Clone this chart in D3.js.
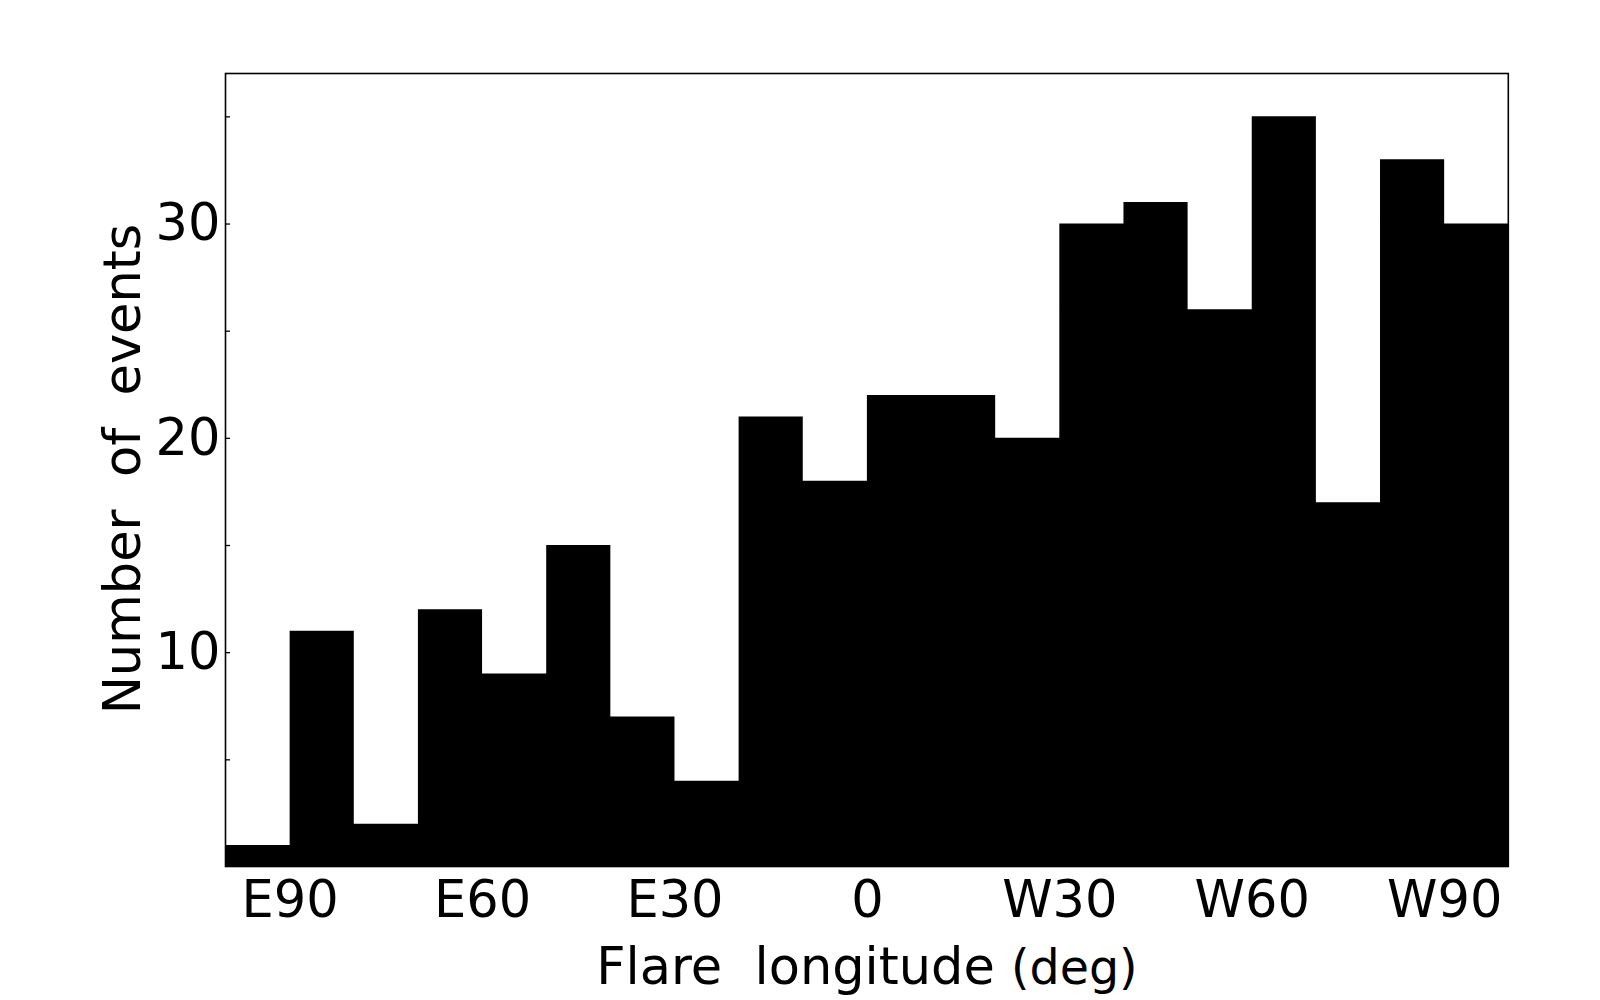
<!DOCTYPE html>
<html>
<head>
<meta charset="utf-8">
<script src="https://cdn.jsdelivr.net/npm/d3@7"></script>
<style>
  html, body { margin: 0; padding: 0; background: #fff; }
  svg { display: block; font-family: "DejaVu Sans", sans-serif; }
</style>
</head>
<body>
<svg id="chart" width="1600" height="1000"></svg>
<script>
// ---- data ----
const binStarts = [-100, -90, -80, -70, -60, -50, -40, -30, -20, -10, 0, 10, 20, 30, 40, 50, 60, 70, 80, 90];
const binWidth = 10;
const counts = [1, 11, 2, 12, 9, 15, 7, 4, 21, 18, 22, 22, 20, 30, 31, 26, 35, 17, 33, 30];
const xTickValues = [-90, -60, -30, 0, 30, 60, 90];
const xTickLabels = ["E90", "E60", "E30", "0", "W30", "W60", "W90"];
const yMajorTicks = [10, 20, 30];
const yMinorTicks = [5, 15, 25, 35];
const xLabelMain = "Flare\u00a0\u00a0longitude\u00a0";
const xLabelUnit = "(deg)";
const yLabel = "Number\u00a0\u00a0of\u00a0\u00a0events";

// ---- layout ----
const plotLeft = 225.5, plotRight = 1508.3, plotTop = 73.5, plotBottom = 866.5;
const svg = d3.select("#chart");

const x = d3.scaleLinear().domain([-100, 100]).range([plotLeft, plotRight]);
const y = d3.scaleLinear().domain([0, 37]).range([plotBottom, plotTop]);

// histogram as one step-filled shape (no seams between bins)
const stepData = binStarts.map((s, i) => ({ x: s, c: counts[i] }));
stepData.push({ x: binStarts[binStarts.length - 1] + binWidth, c: counts[counts.length - 1] });
const area = d3.area()
  .x(d => x(d.x))
  .y0(y(0))
  .y1(d => y(d.c))
  .curve(d3.curveStepAfter);
svg.append("path")
  .datum(stepData)
  .attr("d", area)
  .attr("fill", "#000")
  .attr("stroke", "none");

// y axis major
const yAxis = svg.append("g")
  .attr("transform", `translate(${plotLeft},0)`)
  .call(d3.axisLeft(y).tickValues(yMajorTicks).tickSize(-4.5).tickPadding(5).tickFormat(d3.format("d")));
yAxis.select(".domain").remove();
yAxis.selectAll("line").attr("stroke", "#000").attr("stroke-width", 1.3);
yAxis.selectAll("text").attr("font-size", 51).attr("font-family", "DejaVu Sans").attr("fill", "#000");

// y axis minor
const yMinor = svg.append("g")
  .attr("transform", `translate(${plotLeft},0)`)
  .call(d3.axisLeft(y).tickValues(yMinorTicks).tickSize(-4.5).tickFormat(""));
yMinor.select(".domain").remove();
yMinor.selectAll("line").attr("stroke", "#000").attr("stroke-width", 1.3);

// x axis
const xAxis = svg.append("g")
  .attr("transform", `translate(0,${plotBottom})`)
  .call(d3.axisBottom(x).tickValues(xTickValues).tickSize(0).tickPadding(14)
    .tickFormat((d, i) => xTickLabels[i]));
xAxis.select(".domain").remove();
xAxis.selectAll("text").attr("font-size", 51).attr("font-family", "DejaVu Sans").attr("fill", "#000");

// frame
svg.append("rect")
  .attr("x", plotLeft).attr("y", plotTop)
  .attr("width", plotRight - plotLeft).attr("height", plotBottom - plotTop)
  .attr("fill", "none").attr("stroke", "#000").attr("stroke-width", 1.6);

// x label
const xl = svg.append("text")
  .attr("x", (plotLeft + plotRight) / 2)
  .attr("y", 984)
  .attr("text-anchor", "middle")
  .attr("fill", "#000");
xl.append("tspan").attr("font-size", 51).text(xLabelMain);
xl.append("tspan").attr("font-size", 47.5).text(xLabelUnit);

// y label
svg.append("text")
  .attr("transform", "translate(140,469) rotate(-90)")
  .attr("text-anchor", "middle")
  .attr("font-size", 51)
  .attr("fill", "#000")
  .text(yLabel);
</script>
</body>
</html>
